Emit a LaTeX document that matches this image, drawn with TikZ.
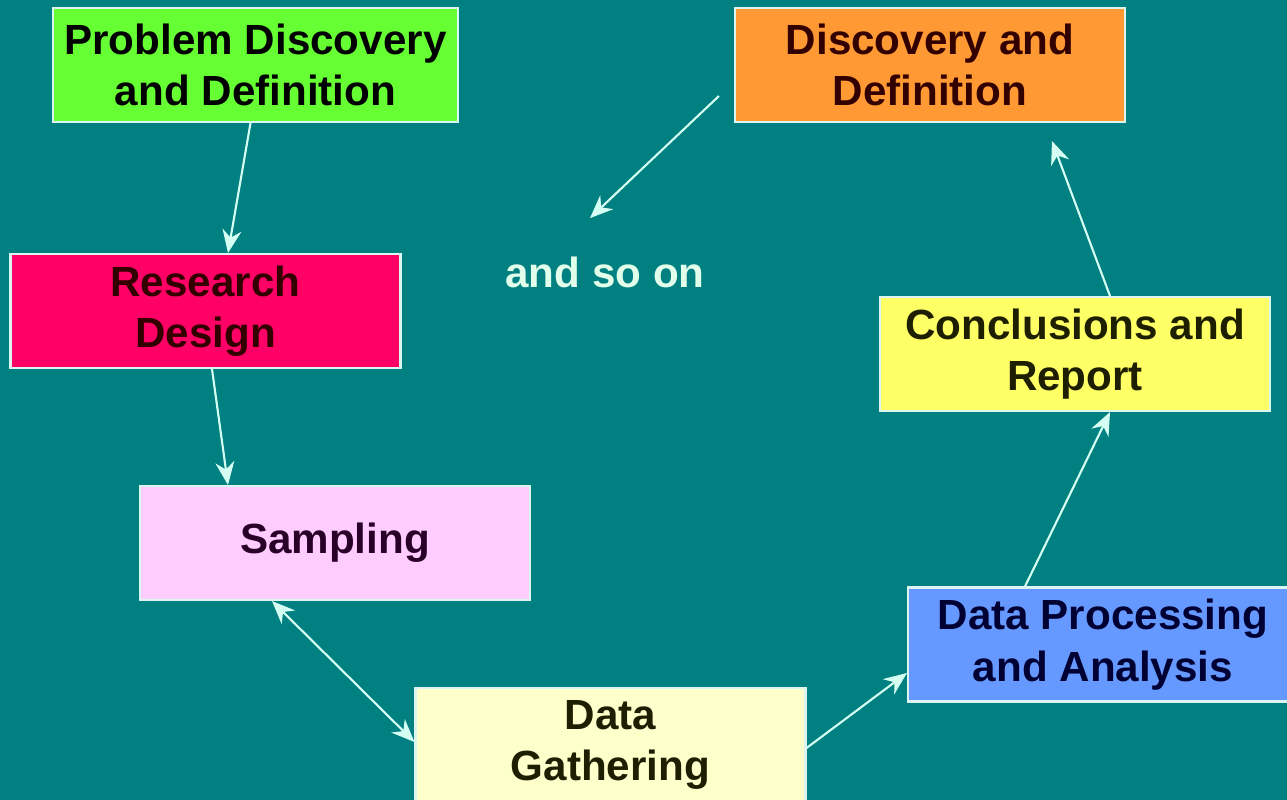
\documentclass[tikz,border=0pt]{standalone}
\usepackage{fontspec}
\setmainfont{Liberation Sans}
\usetikzlibrary{arrows.meta}
\definecolor{fondo}{HTML}{008080}
\definecolor{borde}{HTML}{DDF5F0}
\definecolor{flecha}{HTML}{D5FFF2}
\tikzset{
  caja/.style={draw=borde, line width=0.6pt, minimum width=3.9cm, minimum height=1.14cm,
    align=center, font=\fontsize{12}{14.6}\selectfont\bfseries, inner sep=0pt},
  flechita/.style={draw=flecha, line width=0.6pt, -{Stealth[length=2.3mm,width=1.9mm]}}
}
\begin{document}
\begin{tikzpicture}
    \fill[fondo] (0,0) rectangle (12.87,-8);
    \useasboundingbox (0,0) rectangle (12.87,-8);
    % Cajas
    \node[caja, fill={rgb,255:red,102;green,255;blue,51}, minimum width=4.05cm] (pd) at (2.555,-0.65) {Problem Discovery\\and Definition};
    \node[caja, fill={rgb,255:red,255;green,0;blue,102}, text={rgb,255:red,51;green,0;blue,0}] (rd) at (2.055,-3.11) {Research\\Design};
    \node[caja, fill={rgb,255:red,255;green,204;blue,255}, text={rgb,255:red,40;green,0;blue,40}] (sa) at (3.35,-5.43) {Sampling};
    \node[caja, fill={rgb,255:red,255;green,255;blue,204}, text={rgb,255:red,30;green,30;blue,0}] (dg) at (6.105,-7.45) {Data\\Gathering};
    \node[caja, fill={rgb,255:red,102;green,153;blue,255}, text={rgb,255:red,0;green,0;blue,51}] (dpa) at (11.03,-6.445) {Data Processing\\and Analysis};
    \node[caja, fill={rgb,255:red,255;green,255;blue,102}, text={rgb,255:red,30;green,30;blue,0}] (cr) at (10.75,-3.54) {Conclusions and\\Report};
    \node[caja, fill={rgb,255:red,255;green,153;blue,51}, text={rgb,255:red,51;green,0;blue,0}] (dd) at (9.30,-0.65) {Discovery and\\Definition};
    \node[text={rgb,255:red,225;green,255;blue,235}, font=\fontsize{12}{14.6}\selectfont\bfseries] (so) at (6.05,-2.72) {and so on};
    % Flechas
    \draw[flechita] ([xshift=-0.5mm]pd.south) -- ([xshift=2.25mm]rd.north);
    \draw[flechita] ([xshift=0.65mm]rd.south) -- ([xshift=-10.7mm]sa.north);
    \draw[flechita, {Stealth[length=2.3mm,width=1.9mm]}-{Stealth[length=2.3mm,width=1.9mm]}] ([xshift=-6.3mm]sa.south) -- ([yshift=0.3mm]dg.west);
    \draw[flechita] ([yshift=-0.3mm]dg.east) -- ([yshift=-2.85mm]dpa.west);
    \draw[flechita] ([xshift=-7.8mm]dpa.north) -- ([xshift=3.5mm]cr.south);
    \draw[flechita] ([xshift=3.5mm]cr.north) -- ([xshift=12.2mm,yshift=-1.8mm]dd.south);
    \draw[flechita] ([xshift=-1.5mm,yshift=-3.1mm]dd.west) -- ([xshift=-1.5mm,yshift=2.6mm]so.north);
\end{tikzpicture}
\end{document}
